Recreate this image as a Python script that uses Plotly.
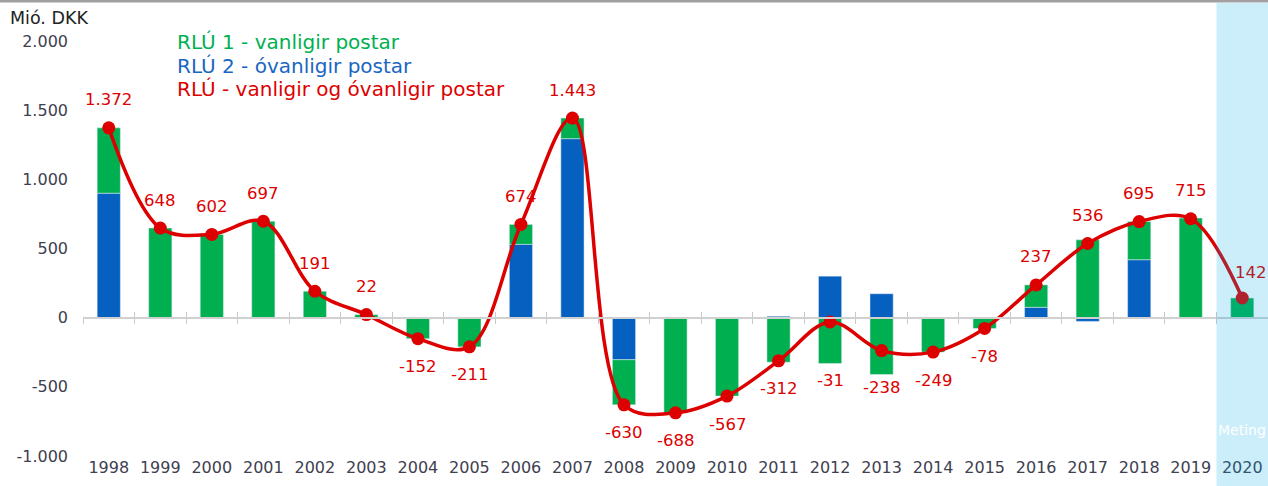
import plotly.graph_objects as go

years = [str(y) for y in range(1998, 2021)]
# RLÚ 2 - óvanligir postar (blue)
rlu2 = [900, 0, 0, 0, 0, 0, 0, 0, 530, 1294, -304, 0, 0, 10, 300, 173, 0, 0, 75, -27, 419, -5, 0]
# RLÚ 1 - vanligir postar (green)
rlu1 = [472, 648, 602, 697, 191, 22, -152, -211, 144, 149, -326, -688, -567, -322, -331, -411, -249, -78, 162, 563, 276, 720, 142]
# RLÚ - total
total = [1372, 648, 602, 697, 191, 22, -152, -211, 674, 1443, -630, -688, -567, -312, -31, -238, -249, -78, 237, 536, 695, 715, 142]

ytick_vals = [-1000, -500, 0, 500, 1000, 1500, 2000]
ytick_text = ["-1.000", "-500", "0", "500", "1.000", "1.500", "2.000"]

GREEN = "#00B050"
BLUE = "#0560C0"
RED = "#DD0000"
FONT = "DejaVu Sans"

fig = go.Figure()
fig.add_trace(go.Bar(x=years, y=rlu2, marker_color=BLUE, name="RLÚ 2"))
fig.add_trace(go.Bar(x=years, y=rlu1, marker_color=GREEN, name="RLÚ 1"))
fig.add_trace(go.Scatter(
    x=years, y=total, mode="lines+markers",
    line=dict(color=RED, width=3.5, shape="spline", smoothing=1),
    marker=dict(color=RED, size=13), name="RLÚ"
))
# invisible traces to carry the zero-line axes with tick marks (down and up)
for ax in ["x2", "x3"]:
    fig.add_trace(go.Scatter(x=years, y=[0] * len(years), xaxis=ax, mode="lines",
                             line=dict(width=0), hoverinfo="skip", showlegend=False))

def fmt(v):
    return f"{v:,}".replace(",", ".")

# a couple of labels were nudged in the original
label_nudge = {"2012": (0, -59), "2013": (0, -37), "2020": (9, 26)}
for i, v in enumerate(total):
    dx, dy = label_nudge.get(years[i], (0, 28 if v >= 0 else -28))
    fig.add_annotation(
        x=i, y=v, text=fmt(v), showarrow=False, xshift=dx, yshift=dy,
        font=dict(family=FONT, size=16.5, color="#B0222E" if years[i] == "2020" else RED),
    )

# legend texts
legend = [("RLÚ 1 - vanligir postar", GREEN), ("RLÚ 2 - óvanligir postar", "#1A66C2"),
          ("RLÚ - vanligir og óvanligir postar", RED)]
for i, (txt, col) in enumerate(legend):
    fig.add_annotation(xref="paper", yref="paper", x=(175 - 83) / 1185, y=(456 - 42 - 23.5 * i) / 415,
                       text=txt, showarrow=False, xanchor="left", yanchor="middle",
                       font=dict(family=FONT, size=20, color=col))

fig.add_annotation(xref="paper", yref="paper", x=-75 / 1185, y=(456 - 18) / 415, text="Mió. DKK",
                   showarrow=False, xanchor="left", yanchor="middle",
                   font=dict(family=FONT, size=17.5, color="#222222"))

fig.add_annotation(x=22, yref="paper", y=(456 - 440) / 415, text="Meting", showarrow=False,
                   font=dict(family=FONT, size=14, color="white"))

# forecast shading and top border line
fig.add_shape(type="rect", xref="x", yref="paper", x0=21.5, x1=22.5, y0=-0.08, y1=(456 - 3) / 415,
              fillcolor="rgba(0,170,230,0.2)", line_width=0, layer="above")
fig.add_shape(type="line", xref="paper", yref="paper", x0=-0.1, x1=1, y0=(456 - 1) / 415, y1=(456 - 1) / 415,
              line=dict(color="#A0A0A0", width=3))

zero_axis = dict(type="category", overlaying="x", matches="x", anchor="free", position=(456 - 318) / 415,
                 side="bottom", showline=True, linecolor="#D0D0D0", linewidth=1.5, automargin=False,
                 ticklen=5, tickcolor="#C8C8C8", tickson="boundaries",
                 showticklabels=False, showgrid=False)

fig.update_layout(
    width=1268, height=486,
    margin=dict(l=83, r=0, t=41, b=30, autoexpand=False),
    barmode="relative", bargap=0.55,
    plot_bgcolor="white", paper_bgcolor="white",
    showlegend=False,
    font=dict(family=FONT, size=16, color="#404050"),
    xaxis=dict(type="category", showgrid=False, showline=False, ticks="", automargin=False,
               tickfont=dict(size=16, color="#404050"), range=[-0.5, 22.5]),
    xaxis2=dict(zero_axis, ticks="outside"),
    xaxis3=dict(zero_axis, ticks="inside"),
    yaxis=dict(range=[-1000, 2000], tickvals=ytick_vals, ticktext=ytick_text, showgrid=False,
               zeroline=False, showline=False, automargin=False, ticklabelstandoff=14,
               tickfont=dict(size=16, color="#404050")),
)

fig.write_html("out.html", config={"displayModeBar": False},
               post_script="document.body.style.margin='0';")
